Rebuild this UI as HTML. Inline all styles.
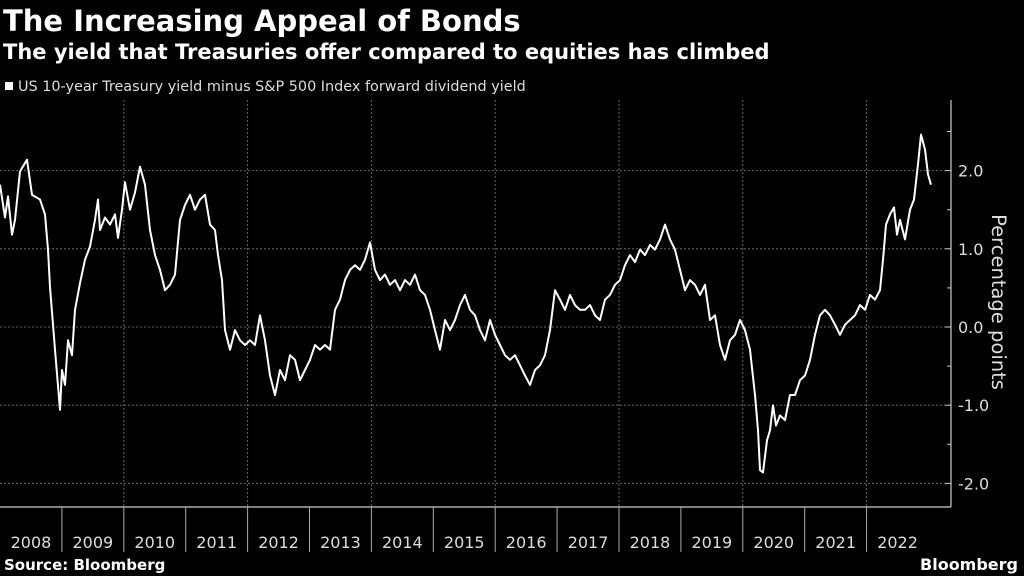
<!DOCTYPE html>
<html><head><meta charset="utf-8"><style>
body{margin:0;background:#000;width:1024px;height:576px;overflow:hidden;font-family:"DejaVu Sans","Liberation Sans",sans-serif;color:#fff}
svg{position:absolute;left:0;top:0;font-family:"DejaVu Sans","Liberation Sans",sans-serif}
</style></head><body>
<svg width="1024" height="576">
<text x="3" y="31" font-size="29" font-weight="bold" fill="#fff">The Increasing Appeal of Bonds</text>
<text x="3" y="59" font-size="21" font-weight="bold" fill="#fff">The yield that Treasuries offer compared to equities has climbed</text>
<rect x="5" y="82" width="8" height="8" fill="#fff"/>
<text x="18" y="91" font-size="14.4" fill="#ddd">US 10-year Treasury yield minus S&amp;P 500 Index forward dividend yield</text>
<g id="grid"></g>
<g id="axes"></g>
<polyline id="line" fill="none" stroke="#fff" stroke-width="2" stroke-linejoin="round"/>
<text transform="translate(992,302) rotate(90)" text-anchor="middle" font-size="19.5" fill="#ddd">Percentage points</text>
<text x="4" y="570" font-size="15" font-weight="bold" fill="#fff">Source: Bloomberg</text>
<text x="1018" y="570" text-anchor="end" font-size="16" font-weight="bold" fill="#fff">Bloomberg</text>
</svg>
<script>
const baseYear = 2008;
const yearLabels = ["2008","2009","2010","2011","2012","2013","2014","2015","2016","2017","2018","2019","2020","2021","2022"];
const yTicks = [2.0, 1.0, 0.0, -1.0, -2.0];
const yTickLabels = ["2.0","1.0","0.0","-1.0","-2.0"];
const t = [0,.081,.129,.194,.242,.323,.436,.517,.646,.727,.775,.808,.889,.969,1.002,1.050,1.099,1.163,1.212,1.292,1.373,1.454,1.535,1.583,1.616,1.696,1.777,1.858,1.906,1.971,2.019,2.100,2.181,2.262,2.342,2.423,2.504,2.585,2.666,2.746,2.827,2.908,2.989,3.069,3.150,3.231,3.312,3.393,3.473,3.522,3.586,3.635,3.716,3.796,3.877,3.958,4.039,4.120,4.200,4.281,4.362,4.443,4.523,4.604,4.685,4.766,4.847,4.927,5.008,5.089,5.170,5.250,5.331,5.412,5.493,5.574,5.654,5.735,5.816,5.897,5.977,6.058,6.139,6.220,6.300,6.381,6.462,6.543,6.624,6.704,6.785,6.866,6.947,7.027,7.108,7.189,7.270,7.351,7.431,7.512,7.593,7.674,7.754,7.835,7.916,7.997,8.078,8.158,8.239,8.320,8.401,8.481,8.562,8.643,8.724,8.805,8.885,8.966,9.047,9.128,9.208,9.289,9.370,9.451,9.532,9.612,9.693,9.774,9.855,9.935,10.016,10.097,10.178,10.258,10.339,10.420,10.501,10.582,10.662,10.743,10.824,10.905,10.985,11.066,11.147,11.228,11.309,11.389,11.470,11.551,11.632,11.712,11.793,11.874,11.955,12.036,12.116,12.197,12.246,12.278,12.326,12.391,12.439,12.488,12.536,12.601,12.682,12.763,12.843,12.924,13.005,13.086,13.166,13.247,13.328,13.409,13.489,13.570,13.651,13.732,13.813,13.893,13.974,14.055,14.136,14.216,14.265,14.313,14.378,14.443,14.491,14.540,14.620,14.701,14.766,14.830,14.879,14.943,14.992,15.040];
const spread = [1.82,1.40,1.67,1.18,1.37,1.99,2.14,1.69,1.63,1.44,0.99,0.51,-0.29,-1.06,-0.55,-0.74,-0.17,-0.36,0.22,0.56,0.86,1.03,1.37,1.63,1.24,1.40,1.31,1.44,1.14,1.50,1.85,1.50,1.72,2.05,1.82,1.24,0.92,0.73,0.47,0.54,0.67,1.37,1.56,1.69,1.50,1.63,1.69,1.31,1.24,0.92,0.60,-0.04,-0.29,-0.04,-0.17,-0.23,-0.17,-0.23,0.15,-0.17,-0.62,-0.87,-0.55,-0.68,-0.36,-0.42,-0.68,-0.55,-0.42,-0.23,-0.29,-0.23,-0.29,0.22,0.35,0.60,0.73,0.79,0.73,0.86,1.08,0.73,0.60,0.67,0.54,0.60,0.47,0.60,0.54,0.67,0.47,0.41,0.22,-0.04,-0.29,0.09,-0.04,0.09,0.28,0.41,0.22,0.15,-0.04,-0.17,0.09,-0.10,-0.23,-0.36,-0.42,-0.36,-0.49,-0.62,-0.74,-0.55,-0.49,-0.36,-0.04,0.47,0.35,0.22,0.41,0.28,0.22,0.22,0.28,0.15,0.09,0.35,0.41,0.54,0.60,0.79,0.92,0.83,0.99,0.92,1.05,0.99,1.12,1.31,1.12,0.99,0.73,0.47,0.60,0.54,0.41,0.54,0.09,0.15,-0.23,-0.42,-0.17,-0.10,0.09,-0.04,-0.29,-0.87,-1.32,-1.83,-1.86,-1.45,-1.32,-1.00,-1.26,-1.13,-1.19,-0.87,-0.87,-0.68,-0.62,-0.42,-0.10,0.15,0.22,0.15,0.03,-0.10,0.03,0.09,0.15,0.28,0.22,0.41,0.35,0.47,0.86,1.31,1.44,1.53,1.18,1.37,1.12,1.50,1.63,2.08,2.46,2.27,1.95,1.82];

const NS = "http://www.w3.org/2000/svg";
const X0 = 0, PX_PER_YEAR = 61.9, Y0 = 327, PX_PER_UNIT = 78.2;
const plotTop = 100, plotBottom = 507, plotRight = 951;
function xScale(yr){ return X0 + yr * PX_PER_YEAR; }
function yScale(v){ return Y0 - v * PX_PER_UNIT; }
function mk(tag, attrs, parent){ const e=document.createElementNS(NS,tag); for(const k in attrs) e.setAttribute(k,attrs[k]); parent.appendChild(e); return e; }
const grid=document.getElementById('grid'), axes=document.getElementById('axes');

yTicks.forEach((v,i)=>{
  const y=yScale(v);
  const g=mk('line',{x1:0,x2:plotRight,y1:y,y2:y,stroke:'#666','stroke-width':1,'stroke-dasharray':'2,2'},grid);
  
  
  const tk=mk('line',{x1:plotRight-6,x2:plotRight,y1:y,y2:y,stroke:'#ccc','stroke-width':1},axes);
  
  
  const tx=mk('text',{x:plotRight+7,y:y+6,'font-size':16,fill:'#ddd'},axes);
  tx.textContent=yTickLabels[i];
  
  
});
[2.5,1.5,0.5,-0.5,-1.5].forEach(v=>{
  const y=yScale(v);
  const tk=mk('line',{x1:plotRight-4,x2:plotRight,y1:y,y2:y,stroke:'#ccc','stroke-width':1},axes);
  
  
});
const ya=mk('line',{x1:plotRight,x2:plotRight,y1:plotTop,y2:plotBottom,stroke:'#ccc','stroke-width':1.2},axes);


const xa=mk('line',{x1:0,x2:plotRight,y1:plotBottom,y2:plotBottom,stroke:'#ccc','stroke-width':1.2},axes);



yearLabels.forEach((lab,i)=>{
  const xs=xScale(i), xe=xScale(i+1);
  if(i>0){
    const tk=mk('line',{x1:xs,x2:xs,y1:plotBottom,y2:552,stroke:'#aaa','stroke-width':1},axes);
    
    
    if(i%2===0){
      const g=mk('line',{x1:xs,x2:xs,y1:plotTop,y2:plotBottom,stroke:'#666','stroke-width':1,'stroke-dasharray':'2,2'},grid);
      
      
    }
  }
  const tx=mk('text',{x:(xs+Math.min(xe,plotRight))/2,y:548,'font-size':16,fill:'#ddd','text-anchor':'middle'},axes);
  tx.textContent=lab;
  
  
});

document.getElementById('line').setAttribute('points', t.map((v,i)=>xScale(v).toFixed(1)+','+yScale(spread[i]).toFixed(1)).join(' '));
</script>
</body></html>
